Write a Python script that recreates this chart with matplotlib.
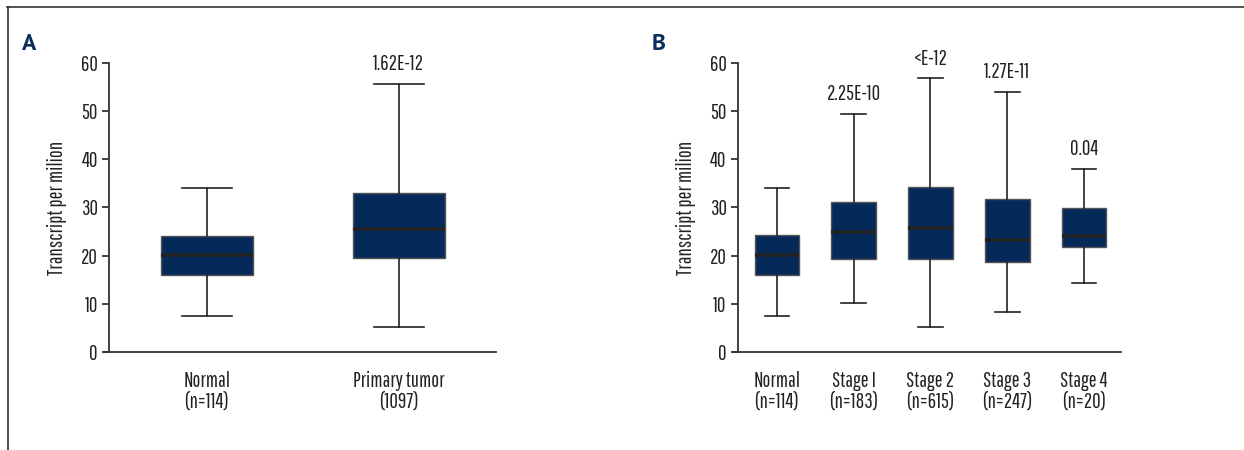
"""
TPM box plots: normal vs tumour (A) and by stage (B).
"""
import matplotlib
matplotlib.use("Agg")
import matplotlib.pyplot as plt
from matplotlib.lines import Line2D

plt.rcParams["font.family"] = ["Pathway Gothic One", "PT Sans Narrow", "DejaVu Sans"]

BOX_COL = "#052a5a"
LINE_COL = "#222222"
FS = 15

# panel A
a_labels = ["Normal\n(n=114)", "Primary tumor\n(1097)"]
a_whislo = [7.4, 5.25]
a_q1 = [15.95, 19.6]
a_med = [20.2, 25.55]
a_q3 = [24.0, 32.9]
a_whishi = [34.1, 55.6]
a_pvals = ["", "1.62E-12"]

# panel B
b_labels = ["Normal\n(n=114)", "Stage I\n(n=183)", "Stage 2\n(n=615)",
            "Stage 3\n(n=247)", "Stage 4\n(n=20)"]
b_whislo = [7.4, 10.15, 5.25, 8.2, 14.4]
b_q1 = [16.0, 19.3, 19.3, 18.65, 21.7]
b_med = [20.2, 24.9, 25.7, 23.2, 24.0]
b_q3 = [24.2, 31.2, 34.2, 31.8, 29.8]
b_whishi = [34.1, 49.4, 56.8, 54.0, 38.0]
b_pvals = ["", "2.25E-10", "<E-12", "1.27E-11", "0.04"]


def draw_panel(ax, labels, lo, q1, med, q3, hi, pvals, width, xlim, letter):
    stats = [dict(whislo=l, q1=a, med=m, q3=b, whishi=h, fliers=[])
             for l, a, m, b, h in zip(lo, q1, med, q3, hi)]
    pos = list(range(1, len(stats) + 1))
    ax.bxp(stats, positions=pos, widths=width, capwidths=width * 0.55,
           showfliers=False, patch_artist=True,
           boxprops=dict(facecolor=BOX_COL, edgecolor="#555555", linewidth=1),
           medianprops=dict(color=LINE_COL, linewidth=2.6),
           whiskerprops=dict(color=LINE_COL, linewidth=1.2),
           capprops=dict(color=LINE_COL, linewidth=1.2))
    for p, h, txt in zip(pos, hi, pvals):
        if txt:
            ax.annotate(txt, xy=(p, h), xytext=(0, 7), textcoords="offset points",
                        ha="center", va="bottom", fontsize=FS, color="#222222")
    ax.set_ylim(0, 60)
    ax.set_xlim(*xlim)
    ax.set_yticks(range(0, 61, 10))
    ax.set_xticks(pos)
    ax.set_xticklabels(labels, fontsize=FS, color="#222222", linespacing=1.05)
    ax.tick_params(axis="y", labelsize=FS, colors="#222222", length=5, width=1.2, pad=3)
    ax.tick_params(axis="x", length=0, pad=14)
    ax.set_ylabel("Transcript per milion", fontsize=15, color="#222222", labelpad=10)
    for s in ("top", "right"):
        ax.spines[s].set_visible(False)
    for s in ("left", "bottom"):
        ax.spines[s].set_color("#333333")
        ax.spines[s].set_linewidth(1.3)
    ax.spines["bottom"].set_bounds(xlim[0] - (xlim[1] - xlim[0]) * 0.013, xlim[1])
    ax.text(-0.225, 1.065, letter, transform=ax.transAxes, fontsize=17,
            fontweight="bold", color="#0a2d5e", family=["PT Sans", "DejaVu Sans"],
            ha="left", va="center")


fig = plt.figure(figsize=(12.44, 4.5), dpi=100)
ax_a = fig.add_axes([0.0876, 0.218, 0.311, 0.642])
ax_b = fig.add_axes([0.593, 0.218, 0.308, 0.642])

draw_panel(ax_a, a_labels, a_whislo, a_q1, a_med, a_q3, a_whishi, a_pvals,
           0.48, (0.49, 2.505), "A")
draw_panel(ax_b, b_labels, b_whislo, b_q1, b_med, b_q3, b_whishi, b_pvals,
           0.585, (0.488, 5.48), "B")

# outer frame lines (top + left)
fig.add_artist(Line2D([7 / 1244, 1], [1 - 7 / 450, 1 - 7 / 450],
                      transform=fig.transFigure, color="#333333", linewidth=1.2))
fig.add_artist(Line2D([8 / 1244, 8 / 1244], [0, 1 - 7 / 450],
                      transform=fig.transFigure, color="#333333", linewidth=1.2))

fig.savefig("out.png", dpi=100, facecolor="white")
